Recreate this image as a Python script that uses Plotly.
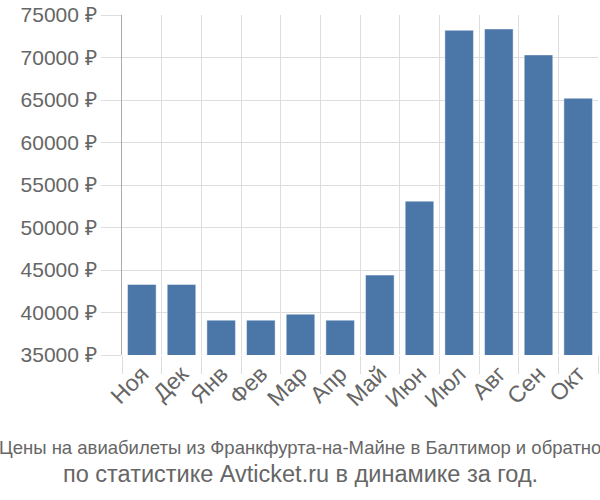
import plotly.graph_objects as go

months = ["Ноя", "Дек", "Янв", "Фев", "Мар", "Апр", "Май", "Июн", "Июл", "Авг", "Сен", "Окт"]
prices = [43300, 43300, 39100, 39100, 39800, 39100, 44400, 53100, 73200, 73350, 70300, 65200]
y_ticks = [35000, 40000, 45000, 50000, 55000, 60000, 65000, 70000, 75000]
y_tick_labels = [f"{v} ₽" for v in y_ticks]
title_line1 = "Цены на авиабилеты из Франкфурта-на-Майне в Балтимор и обратно"
title_line2 = "по статистике Avticket.ru в динамике за год."

fig = go.Figure(go.Bar(
    x=months, y=prices,
    marker=dict(color="#4a76a8", line=dict(color="rgba(255,255,255,0.45)", width=1)),
    hoverinfo="skip",
))

fig.update_layout(
    width=600, height=500,
    margin=dict(l=122, r=2, t=15, b=145),
    paper_bgcolor="white", plot_bgcolor="white",
    bargap=0.28,
    showlegend=False,
    font=dict(family="Liberation Sans, Arial, sans-serif", color="#666666"),
)
fig.update_xaxes(
    type="category",
    tickson="boundaries",
    ticks="outside", ticklen=18, tickcolor="#dddddd",
    showgrid=True, gridcolor="#dddddd", gridwidth=1,
    tickangle=-45,
    tickfont=dict(size=23, color="#666666"),
    showline=False, zeroline=False,
)
fig.update_yaxes(
    range=[35000, 75000],
    tickvals=y_ticks, ticktext=y_tick_labels,
    ticks="outside", ticklen=20, tickcolor="#dddddd",
    showgrid=True, gridcolor="#dddddd", gridwidth=1,
    showline=True, linecolor="#aaaaaa", linewidth=1,
    tickfont=dict(size=21, color="#666666"),
    zeroline=False,
)
plot_h = 500 - 15 - 145
xc = (300 - 122) / (600 - 122 - 2)
fig.add_annotation(text=title_line1, x=xc, y=(500 - 145 - 447) / plot_h,
                   xref="paper", yref="paper", yanchor="middle", showarrow=False,
                   font=dict(size=18.5, color="#666666"))
fig.add_annotation(text=title_line2, x=xc, y=(500 - 145 - 474) / plot_h,
                   xref="paper", yref="paper", yanchor="middle", showarrow=False,
                   font=dict(size=23.5, color="#666666"))

fig.write_html("out.html")
